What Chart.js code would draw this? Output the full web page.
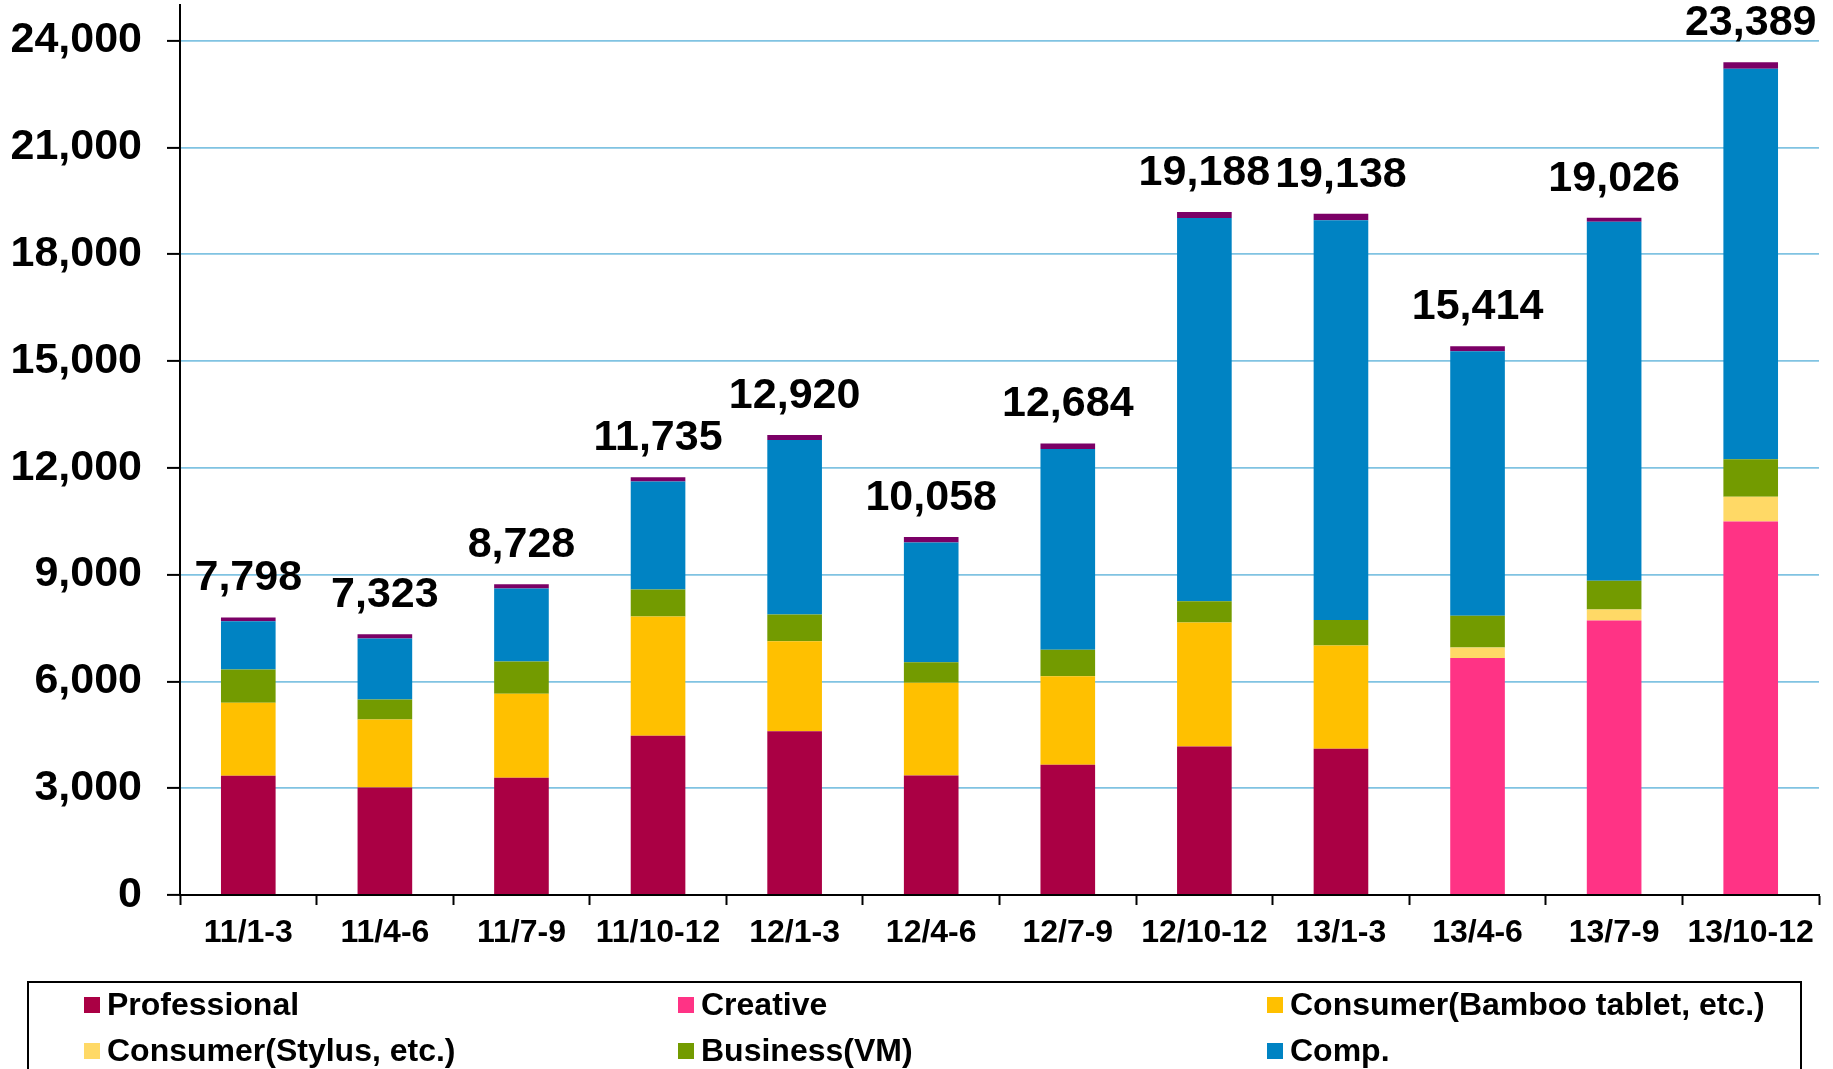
<!DOCTYPE html>
<html>
<head>
<meta charset="utf-8">
<script src="https://cdn.jsdelivr.net/npm/chart.js@4"></script>
<style>
  html, body { margin: 0; padding: 0; background: #fff; }
  #wrap { width: 1833px; height: 1069px; position: relative; }
</style>
</head>
<body>
<div id="wrap"><canvas id="sales"></canvas></div>
<script>
// quarters
var quarters = ["11/1-3", "11/4-6", "11/7-9", "11/10-12", "12/1-3", "12/4-6",
                "12/7-9", "12/10-12", "13/1-3", "13/4-6", "13/7-9", "13/10-12"];

// segment values
var professional = [3349, 3023, 3293, 4472, 4603, 3360, 3656, 4172, 4106, 0, 0, 0];
var creative     = [0, 0, 0, 0, 0, 0, 0, 0, 0, 6655, 7710, 10494];
var bamboo       = [2049, 1909, 2358, 3352, 2526, 2599, 2490, 3484, 2901, 0, 0, 0];
var stylus       = [0, 0, 0, 0, 0, 0, 0, 0, 0, 297, 313, 692];
var business     = [938, 561, 909, 758, 749, 581, 741, 596, 715, 890, 807, 1054];
var comp         = [1356, 1712, 2049, 3032, 4901, 3360, 5643, 10768, 11232, 7429, 10082, 10972];
var others       = [106, 118, 119, 121, 141, 158, 154, 168, 184, 143, 114, 177];

// totals printed above the bars
var totals = [7798, 7323, 8728, 11735, 12920, 10058, 12684, 19188, 19138, 15414, 19026, 23389];

// y axis: labelled every 3,000, axis runs to 25,000
var yMax = 25000;
var yLabelStep = 3000;

var boldFont = "'Liberation Sans', Arial, sans-serif";

function fmt(n) {
  return n.toLocaleString("en-US");
}

// totals above each stack
var totalLabels = {
  id: "totalLabels",
  afterDatasetsDraw: function(chart) {
    var ctx = chart.ctx;
    var y = chart.scales.y;
    var meta = chart.getDatasetMeta(0);
    ctx.save();
    ctx.font = "bold 43px " + boldFont;
    ctx.fillStyle = "#000";
    ctx.textAlign = "center";
    ctx.textBaseline = "alphabetic";
    totals.forEach(function(t, i) {
      ctx.fillText(fmt(t), meta.data[i].x, y.getPixelForValue(t) - 27);
    });
    ctx.restore();
  }
};

// boxed legend, three columns
var boxLegend = {
  id: "boxLegend",
  afterDraw: function(chart) {
    var ctx = chart.ctx;
    var cols = [84, 678, 1267];
    var rowY = 1005, rowGap = 46;
    ctx.save();
    ctx.strokeStyle = "#000";
    ctx.lineWidth = 2;
    ctx.strokeRect(28, 982, 1773, 200);
    ctx.font = "bold 32px " + boldFont;
    ctx.textBaseline = "middle";
    ctx.textAlign = "left";
    chart.data.datasets.forEach(function(ds, i) {
      var cx = cols[i % 3];
      var cy = rowY + Math.floor(i / 3) * rowGap;
      ctx.fillStyle = ds.backgroundColor;
      ctx.fillRect(cx, cy - 8, 16, 16);
      ctx.fillStyle = "#000";
      ctx.fillText(ds.label, cx + 23, cy + 1);
    });
    ctx.restore();
  }
};

new Chart("sales", {
  type: "bar",
  data: {
    labels: quarters,
    datasets: [
      { label: "Professional", data: professional, backgroundColor: "#AA0044" },
      { label: "Creative", data: creative, backgroundColor: "#FF3385" },
      { label: "Consumer(Bamboo tablet, etc.)", data: bamboo, backgroundColor: "#FFC000" },
      { label: "Consumer(Stylus, etc.)", data: stylus, backgroundColor: "#FFD966" },
      { label: "Business(VM)", data: business, backgroundColor: "#739B00" },
      { label: "Comp.", data: comp, backgroundColor: "#0083C3" },
      { label: "Others", data: others, backgroundColor: "#7B0066" }
    ]
  },
  options: {
    responsive: true,
    maintainAspectRatio: false,
    animation: false,
    layout: { padding: { top: 5, right: 14, left: 0, bottom: 0 } },
    datasets: {
      bar: { categoryPercentage: 1, barPercentage: 0.4, borderWidth: 0 }
    },
    plugins: {
      legend: { display: false },
      tooltip: { enabled: false }
    },
    scales: {
      x: {
        stacked: true,
        grid: { drawOnChartArea: false, offset: true, tickLength: 10, tickColor: "#000", tickWidth: 2 },
        border: { color: "#000", width: 2 },
        ticks: { color: "#000", padding: 9, font: { family: boldFont, size: 32, weight: "bold" } },
        afterFit: function(s) {
          s.height = 174;
          s.paddingLeft = 0;
          s.paddingRight = 0;
        }
      },
      y: {
        stacked: true,
        min: 0,
        max: yMax,
        grid: { color: "#80C3E2", lineWidth: 1.8, tickColor: "#000", tickLength: 13, tickWidth: 2 },
        border: { color: "#000", width: 2 },
        ticks: {
          stepSize: 1000,
          autoSkip: false,
          color: "#000",
          padding: 25,
          font: { family: boldFont, size: 43, weight: "bold" },
          // only every 3,000 gets a label and a grid line
          callback: function(v) { return v % yLabelStep === 0 ? fmt(v) : null; }
        },
        afterFit: function(s) {
          s.width = 180;
          s.paddingTop = 0;
          s.paddingBottom = 0;
        }
      }
    }
  },
  plugins: [totalLabels, boxLegend]
});
</script>
</body>
</html>
